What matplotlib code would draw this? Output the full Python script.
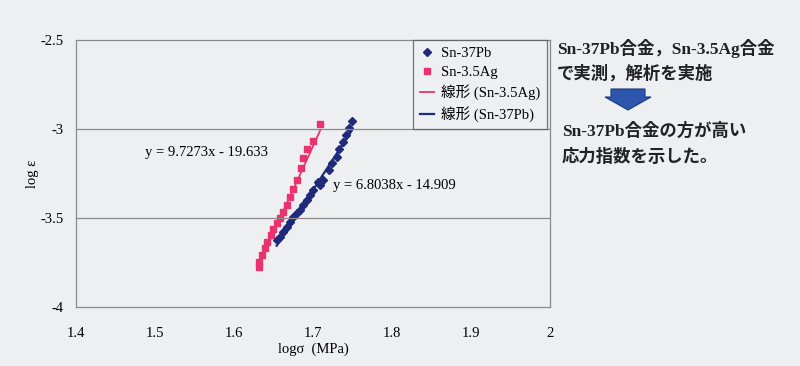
import numpy as np
import matplotlib.pyplot as plt
from matplotlib.patches import Polygon
from matplotlib.lines import Line2D

# Sn-3.5Ag data (log sigma, log epsilon)
ag_x = [1.632, 1.632, 1.635, 1.639, 1.642, 1.647, 1.649, 1.654, 1.658, 1.662,
        1.667, 1.671, 1.675, 1.680, 1.685, 1.687, 1.692, 1.700, 1.709]
ag_y = [-3.775, -3.747, -3.708, -3.669, -3.635, -3.596, -3.562, -3.528, -3.500, -3.466,
        -3.427, -3.382, -3.337, -3.287, -3.219, -3.163, -3.112, -3.067, -2.972]

# Sn-37Pb data
pb_x = [1.654, 1.658, 1.662, 1.667, 1.671, 1.675, 1.680, 1.684, 1.687, 1.692,
        1.696, 1.700, 1.706, 1.709, 1.713, 1.720, 1.724, 1.730, 1.733, 1.738,
        1.742, 1.746, 1.749]
pb_y = [-3.624, -3.607, -3.579, -3.551, -3.522, -3.494, -3.472, -3.455, -3.427, -3.399,
        -3.371, -3.343, -3.298, -3.315, -3.287, -3.230, -3.191, -3.157, -3.112, -3.073,
        -3.034, -2.994, -2.955]

# trend lines (slope, intercept) as printed on the chart
ag_fit = [9.7273, -19.633]
pb_fit = [6.8038, -14.909]

xticks = [1.4, 1.5, 1.6, 1.7, 1.8, 1.9, 2]
xtick_labels = ['1.4', '1.5', '1.6', '1.7', '1.8', '1.9', '2']
yticks = [-4, -3.5, -3, -2.5]
ytick_labels = ['-4', '-3.5', '-3', '-2.5']

pink = '#e8336e'
navy = '#1f2a7c'
bg = '#eeeff1'

serif = ['Liberation Serif', 'Noto Sans CJK JP']
plt.rcParams['font.family'] = serif

fig = plt.figure(figsize=(8, 3.66), dpi=100, facecolor=bg)
ax = fig.add_axes([0.095, 0.161, 0.5925, 0.73])
ax.set_facecolor(bg)

ag_x = np.array(ag_x)
pb_x = np.array(pb_x)

ax.plot(ag_x, ag_y, ls='none', marker='s', ms=5.0, color=pink, label='Sn-3.5Ag')
ax.plot(pb_x, pb_y, ls='none', marker='D', ms=3.6, color=navy, label='Sn-37Pb')

# trend lines over the data range
xa = np.array([ag_x.min(), ag_x.max()])
ax.plot(xa, ag_fit[0] * xa + ag_fit[1], color=pink, lw=1.3)
xp = np.array([pb_x.min(), pb_x.max()])
ax.plot(xp, pb_fit[0] * xp + pb_fit[1], color=navy, lw=1.6)

ax.set_xlim(1.4, 2.0)
ax.set_ylim(-4, -2.5)
ax.set_xticks(xticks)
ax.set_xticklabels(xtick_labels)
ax.set_yticks(yticks)
ax.set_yticklabels(ytick_labels)
ax.tick_params(length=0, labelsize=10.5, pad=9)
ax.tick_params(axis='x', pad=14)
for y in [-3, -3.5]:
    ax.axhline(y, color='#8a8a8a', lw=0.9)
for s in ax.spines.values():
    s.set_color('#8a8a8a')
    s.set_linewidth(0.9)

ax.set_xlabel('logσ  (MPa)', fontsize=10.5, labelpad=2)
ax.set_ylabel('log ε', fontsize=10.5, labelpad=1)

ax.text(1.487, -3.13, 'y = 9.7273x - 19.633', fontsize=10.5, va='center')
ax.text(1.725, -3.315, 'y = 6.8038x - 14.909', fontsize=10.5, va='center')

handles = [
    Line2D([], [], ls='none', marker='D', ms=3.6, color=navy),
    Line2D([], [], ls='none', marker='s', ms=5.0, color=pink),
    Line2D([], [], color=pink, lw=1.3),
    Line2D([], [], color=navy, lw=1.6),
]
labels = ['Sn-37Pb', 'Sn-3.5Ag', '線形 (Sn-3.5Ag)', '線形 (Sn-37Pb)']
leg = ax.legend(handles, labels, loc='upper right', bbox_to_anchor=(0.993, 1.0),
                borderaxespad=0, frameon=True, fancybox=False, handlelength=1.0,
                handletextpad=0.45, borderpad=0.45, labelspacing=0.4,
                prop={'family': serif, 'size': 10.5})
leg.get_frame().set_edgecolor('#555555')
leg.get_frame().set_facecolor(bg)
leg.get_frame().set_linewidth(0.9)

# explanatory text on the right
tfont = dict(fontsize=12.5, family=serif, weight='bold', color='#222222',
             va='center', ha='left')
fig.text(557 / 800, 1 - 49 / 366, 'Sn-37Pb合金，Sn-3.5Ag合金', **tfont)
fig.text(557 / 800, 1 - 74 / 366, 'で実測，解析を実施', **tfont)
fig.text(562 / 800, 1 - 131 / 366, 'Sn-37Pb合金の方が高い', **tfont)
fig.text(562 / 800, 1 - 157 / 366, '応力指数を示した。', **tfont)

# down arrow
cx, top, mid, tip = 628, 89, 97, 110
pts = [(cx - 17, top), (cx + 17, top), (cx + 17, mid), (cx + 23, mid),
       (cx, tip), (cx - 23, mid), (cx - 17, mid)]
pts = [(px / 800, 1 - py / 366) for px, py in pts]
fig.patches.append(Polygon(pts, closed=True, transform=fig.transFigure,
                           facecolor='#2d57ad', edgecolor='#1d3a80', lw=0.8))

fig.savefig('out.png', dpi=100, facecolor=bg)
